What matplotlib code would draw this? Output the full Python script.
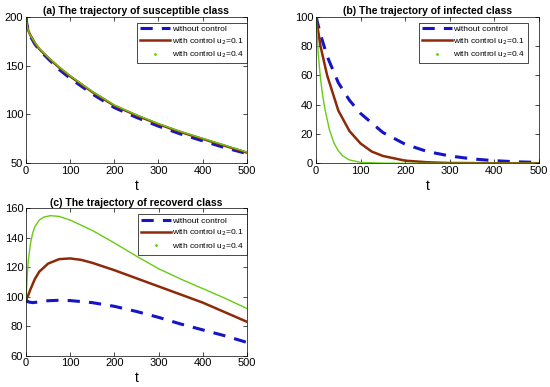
import numpy as np
import matplotlib.pyplot as plt
from matplotlib.lines import Line2D

plt.rcParams['font.family'] = ['Liberation Sans', 'DejaVu Sans']

# (a) susceptible
tS = [0, 2, 5, 10, 20, 30, 50, 75, 100, 150, 200, 250, 300, 350, 400, 450, 500]
S_no = [200, 192, 186, 180, 172, 166, 157, 146, 137, 121, 107, 97, 88, 80, 73, 66, 60]
S_u1 = [200, 192, 186, 181, 173, 167, 158, 148, 139, 123, 109, 99, 90, 82, 75, 68, 61]
S_u4 = [200, 192, 186, 181, 173.5, 167.5, 158.5, 148.5, 139.5, 123.5, 109.5, 99.5, 90.5, 82.5, 75.5, 68.5, 61.5]

# (b) infected
tI_no = [0, 10, 25, 50, 75, 100, 150, 200, 250, 300, 350, 400, 450, 500]
I_no = [100, 88, 73, 55, 43, 34, 21, 13, 8, 5, 3, 1.8, 1, 0.6]
tI_u1 = [0, 5, 10, 25, 50, 75, 100, 125, 150, 200, 250, 300, 400, 500]
I_u1 = [100, 90, 80, 60, 36, 22, 13.5, 8, 5, 1.8, 0.7, 0.2, 0.05, 0]
tI_u4 = [0, 5, 10, 15, 20, 30, 40, 50, 60, 75, 100, 150, 200, 500]
I_u4 = [100, 75, 58, 46, 37, 23, 14, 8.5, 5, 2.3, 0.6, 0.1, 0, 0]

# (c) recovered
tR_no = [0, 5, 15, 30, 50, 75, 100, 150, 200, 250, 300, 350, 400, 450, 500]
R_no = [98, 96.5, 96, 96.5, 97.3, 97.6, 97.4, 96, 93.5, 90, 86, 81.5, 77.5, 73.5, 69]
tR_u1 = [0, 5, 10, 20, 30, 50, 75, 100, 125, 150, 200, 250, 300, 350, 400, 450, 500]
R_u1 = [98, 101, 105, 112, 117, 122.5, 125.5, 126, 125, 123, 118, 112.5, 107, 101.5, 96, 89.5, 83]
tR_u4 = [0, 3, 5, 10, 15, 20, 30, 40, 55, 75, 100, 150, 200, 250, 300, 350, 400, 450, 500]
R_u4 = [98, 115, 124, 136, 143, 147.5, 152, 154, 155, 154.5, 152, 145, 136.5, 127.5, 119, 112, 105.5, 99, 92]

labels = ['without control', 'with control u$_2$=0.1', 'with control u$_2$=0.4']
c_no = '#1414c8'
c_u1 = '#8c2a0a'
c_u4 = '#66cc11'

fig = plt.figure(figsize=(5.5, 3.87), dpi=100)
axa = fig.add_axes([26/550, 1-163.3/387, 220.7/550, 146.6/387])
axb = fig.add_axes([316/550, 1-163.3/387, 223/550, 146.6/387])
axc = fig.add_axes([26/550, 1-355.7/387, 221/550, 147.4/387])


def draw(ax, t0, y0, t1, y1, t2, y2, title, ylim, yticks, leg_x):
    ax.plot(t0, y0, '--', color=c_no, lw=2.2, dashes=(4, 3))
    ax.plot(t1, y1, '-', color=c_u1, lw=1.8)
    ax.plot(t2, y2, '-', color=c_u4, lw=1.0)
    ax.set_xlim(0, 500)
    ax.set_ylim(*ylim)
    ax.set_yticks(yticks)
    ax.set_xticks([0, 100, 200, 300, 400, 500])
    ax.tick_params(direction='in', top=True, right=True, labelsize=8, length=3, width=0.5, pad=2)
    for s in ax.spines.values():
        s.set_linewidth(0.5)
    ax.set_title(title, fontsize=7.5, fontweight='bold', pad=2)
    ax.set_xlabel('t', fontsize=10, labelpad=2)
    handles = [Line2D([], [], ls='--', color=c_no, lw=2.2, dashes=(4, 3)),
               Line2D([], [], ls='-', color=c_u1, lw=1.8),
               Line2D([], [], ls='none', marker='.', color=c_u4, ms=2)]
    ax.legend(handles, labels, loc='upper right', bbox_to_anchor=(leg_x, 0.96),
              fontsize=6, frameon=True, fancybox=False, edgecolor='black',
              framealpha=1, handlelength=3.6, handletextpad=0.2, borderpad=0.35,
              labelspacing=0.35, borderaxespad=0).get_frame().set_linewidth(0.5)


draw(axa, tS, S_no, tS, S_u1, tS, S_u4,
     '(a) The trajectory of susceptible class', (50, 200), [50, 100, 150, 200], 1.0)
draw(axb, tI_no, I_no, tI_u1, I_u1, tI_u4, I_u4,
     '(b) The trajectory of infected class', (0, 100), [0, 20, 40, 60, 80, 100], 0.95)
draw(axc, tR_no, R_no, tR_u1, R_u1, tR_u4, R_u4,
     '(c) The trajectory of recoverd class', (60, 160), [60, 80, 100, 120, 140, 160], 1.0)

fig.savefig('out.png', dpi=100)
